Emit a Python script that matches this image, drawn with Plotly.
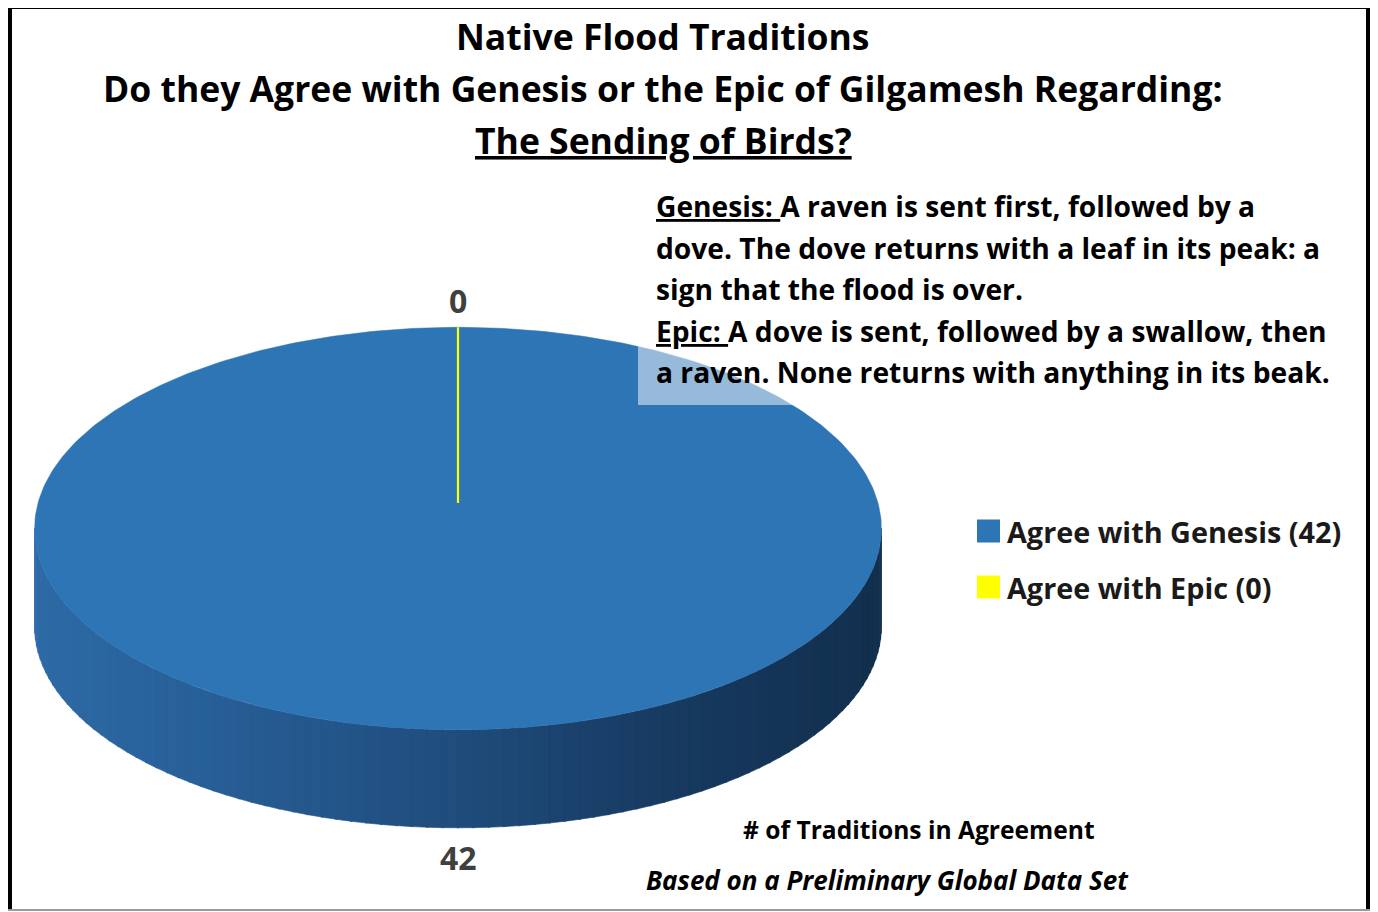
import numpy as np
import plotly.graph_objects as go

# ---------------- data ----------------
categories = ["Agree with Genesis", "Agree with Epic"]
values = [42, 0]
slice_colors = ["#2E75B6", "#FFFF00"]

title_lines = [
    "Native Flood Traditions",
    "Do they Agree with Genesis or the Epic of Gilgamesh Regarding:",
    "<u>The Sending of Birds?</u>",
]
note_lines = [
    "<u>Genesis: </u>A raven is sent first, followed by a",
    "dove. The dove returns with a leaf in its peak: a",
    "sign that the flood is over.",
    "<u>Epic: </u>A dove is sent, followed by a swallow, then",
    "a raven. None returns with anything in its beak.",
]
axis_title = "# of Traditions in Agreement"
footnote = "Based on a Preliminary Global Data Set"

# ---------------- geometry (pixel space of the window) ----------------
W, H = 1378, 912
OFF = 8                  # page body margin
FONT = "Open Sans"
cx, cy0 = 458, 503       # projected pie centre
A, B = 420.0, 198.0      # radii
p = 0.127                # perspective factor
depth = 98               # thickness of the pie


def proj(theta, drop=0.0):
    u = np.cos(theta)
    v = np.sin(theta)
    d = 1 + p * v
    return cx + A * u / d, cy0 - B * v / d + drop


def lerp_color(stops, t):
    for (t0, c0), (t1, c1) in zip(stops[:-1], stops[1:]):
        if t <= t1:
            f = (t - t0) / (t1 - t0) if t1 > t0 else 0
            c = [c0[i] + (c1[i] - c0[i]) * f for i in range(3)]
            return "rgb(%d,%d,%d)" % tuple(int(round(x)) for x in c)
    c = stops[-1][1]
    return "rgb(%d,%d,%d)" % tuple(c)


fig = go.Figure()

# ----- side wall of the pie, with a left-to-right shading -----
side_stops = [
    (0.0, (45, 106, 166)),
    (0.25, (38, 92, 147)),
    (0.5, (31, 76, 124)),
    (0.75, (23, 58, 97)),
    (1.0, (18, 47, 77)),
]
t_start = np.pi + np.arcsin(p)
t_end = 2 * np.pi - np.arcsin(p)
n_strips = 90
edges = np.linspace(t_start, t_end, n_strips + 1)
for a, b in zip(edges[:-1], edges[1:]):
    ts = np.linspace(a - 0.002, b + 0.002, 6)
    xt, yt = proj(ts)
    xb, yb = proj(ts[::-1], depth)
    xs = np.concatenate([xt, xb, xt[:1]])
    ys = np.concatenate([yt, yb, yt[:1]])
    xm = proj((a + b) / 2)[0]
    col = lerp_color(side_stops, (xm - (cx - A)) / (2 * A))
    fig.add_trace(go.Scatter(x=xs, y=ys, mode="lines", fill="toself",
                             fillcolor=col, line=dict(width=0.6, color=col),
                             hoverinfo="skip", showlegend=False))

# ----- top face slices (clockwise from 12 o'clock) -----
total = sum(values)
cum = np.concatenate([[0], np.cumsum(values)]) / total
order = sorted(range(len(values)), key=lambda i: values[i], reverse=True)
for i in order:
    th0 = np.pi / 2 - 2 * np.pi * cum[i]
    th1 = np.pi / 2 - 2 * np.pi * cum[i + 1]
    n = max(2, int(400 * (cum[i + 1] - cum[i])) + 2)
    ts = np.linspace(th0, th1, n)
    xa, ya = proj(ts)
    xs = np.concatenate([[cx], xa, [cx]])
    ys = np.concatenate([[cy0], ya, [cy0]])
    fig.add_trace(go.Scatter(x=xs, y=ys, mode="lines", fill="toself",
                             fillcolor=slice_colors[i],
                             line=dict(width=2.2 if values[i] == 0 else 0.5,
                                       color=slice_colors[i]),
                             name=categories[i], hoverinfo="name",
                             showlegend=False))

annotations = []

# ----- data labels -----
for i in range(len(values)):
    mid = np.pi / 2 - 2 * np.pi * (cum[i] + cum[i + 1]) / 2
    vy = np.sin(mid)
    if vy >= 0:
        lx, ly = proj(mid)
        ly -= 27
    else:
        lx, ly = proj(mid, depth)
        ly += 30
    annotations.append(dict(x=float(lx), y=float(ly), text="<b>%d</b>" % values[i],
                            showarrow=False, xanchor="center", yanchor="middle",
                            font=dict(family=FONT, size=32, color="#404040")))

# ----- title -----
for k, line in enumerate(title_lines):
    annotations.append(dict(x=663, y=36 + 52 * k, text="<b>%s</b>" % line,
                            showarrow=False, xanchor="center", yanchor="middle",
                            font=dict(family=FONT, size=35.5, color="#000000")))

# ----- note text -----
for k, line in enumerate(note_lines):
    annotations.append(dict(x=654, y=206 + 41.5 * k, text="<b>%s</b>" % line,
                            showarrow=False, xanchor="left", yanchor="middle",
                            font=dict(family=FONT, size=28.2, color="#000000")))

# ----- legend -----
shapes = []
for k, (cat, val) in enumerate(zip(categories, values)):
    yc = 531 + 56 * k
    shapes.append(dict(type="rect", xref="x", yref="y", x0=977, x1=1000,
                       y0=yc - 11.5, y1=yc + 11.5, fillcolor=slice_colors[k],
                       line=dict(width=0), layer="above"))
    annotations.append(dict(x=1005, y=yc, text="<b>%s (%d)</b>" % (cat, val),
                            showarrow=False, xanchor="left", yanchor="middle",
                            font=dict(family=FONT, size=28.8, color="#1a1a1a")))

# ----- footer texts -----
annotations.append(dict(x=919, y=829, text="<b>%s</b>" % axis_title,
                        showarrow=False, xanchor="center", yanchor="middle",
                        font=dict(family=FONT, size=24.6, color="#000000")))
annotations.append(dict(x=887, y=880, text="<b><i>%s</i></b>" % footnote,
                        showarrow=False, xanchor="center", yanchor="middle",
                        font=dict(family=FONT, size=26, color="#000000")))

# translucent note box over the pie
shapes.append(dict(type="rect", xref="x", yref="y", x0=638, x1=1345, y0=185, y1=405,
                   fillcolor="rgba(255,255,255,0.5)", line=dict(width=0), layer="above"))
# outer frame (top, left, right heavy black; bottom thin grey)
shapes.append(dict(type="path", xref="x", yref="y",
                   path="M 10,911 L 10,7 L 1368,7 L 1368,911",
                   line=dict(width=4, color="#000000"), layer="above"))
shapes.append(dict(type="line", xref="x", yref="y", x0=8, x1=1370, y0=910, y1=910,
                   line=dict(width=2, color="#9a9a9a"), layer="above"))

fig.update_layout(
    width=W - OFF, height=H - OFF,
    margin=dict(l=0, r=0, t=0, b=0),
    paper_bgcolor="white", plot_bgcolor="white",
    xaxis=dict(range=[OFF, W], visible=False, fixedrange=True),
    yaxis=dict(range=[H, OFF], visible=False, fixedrange=True),
    annotations=annotations, shapes=shapes,
    showlegend=False,
)

fig.write_html("out.html")
